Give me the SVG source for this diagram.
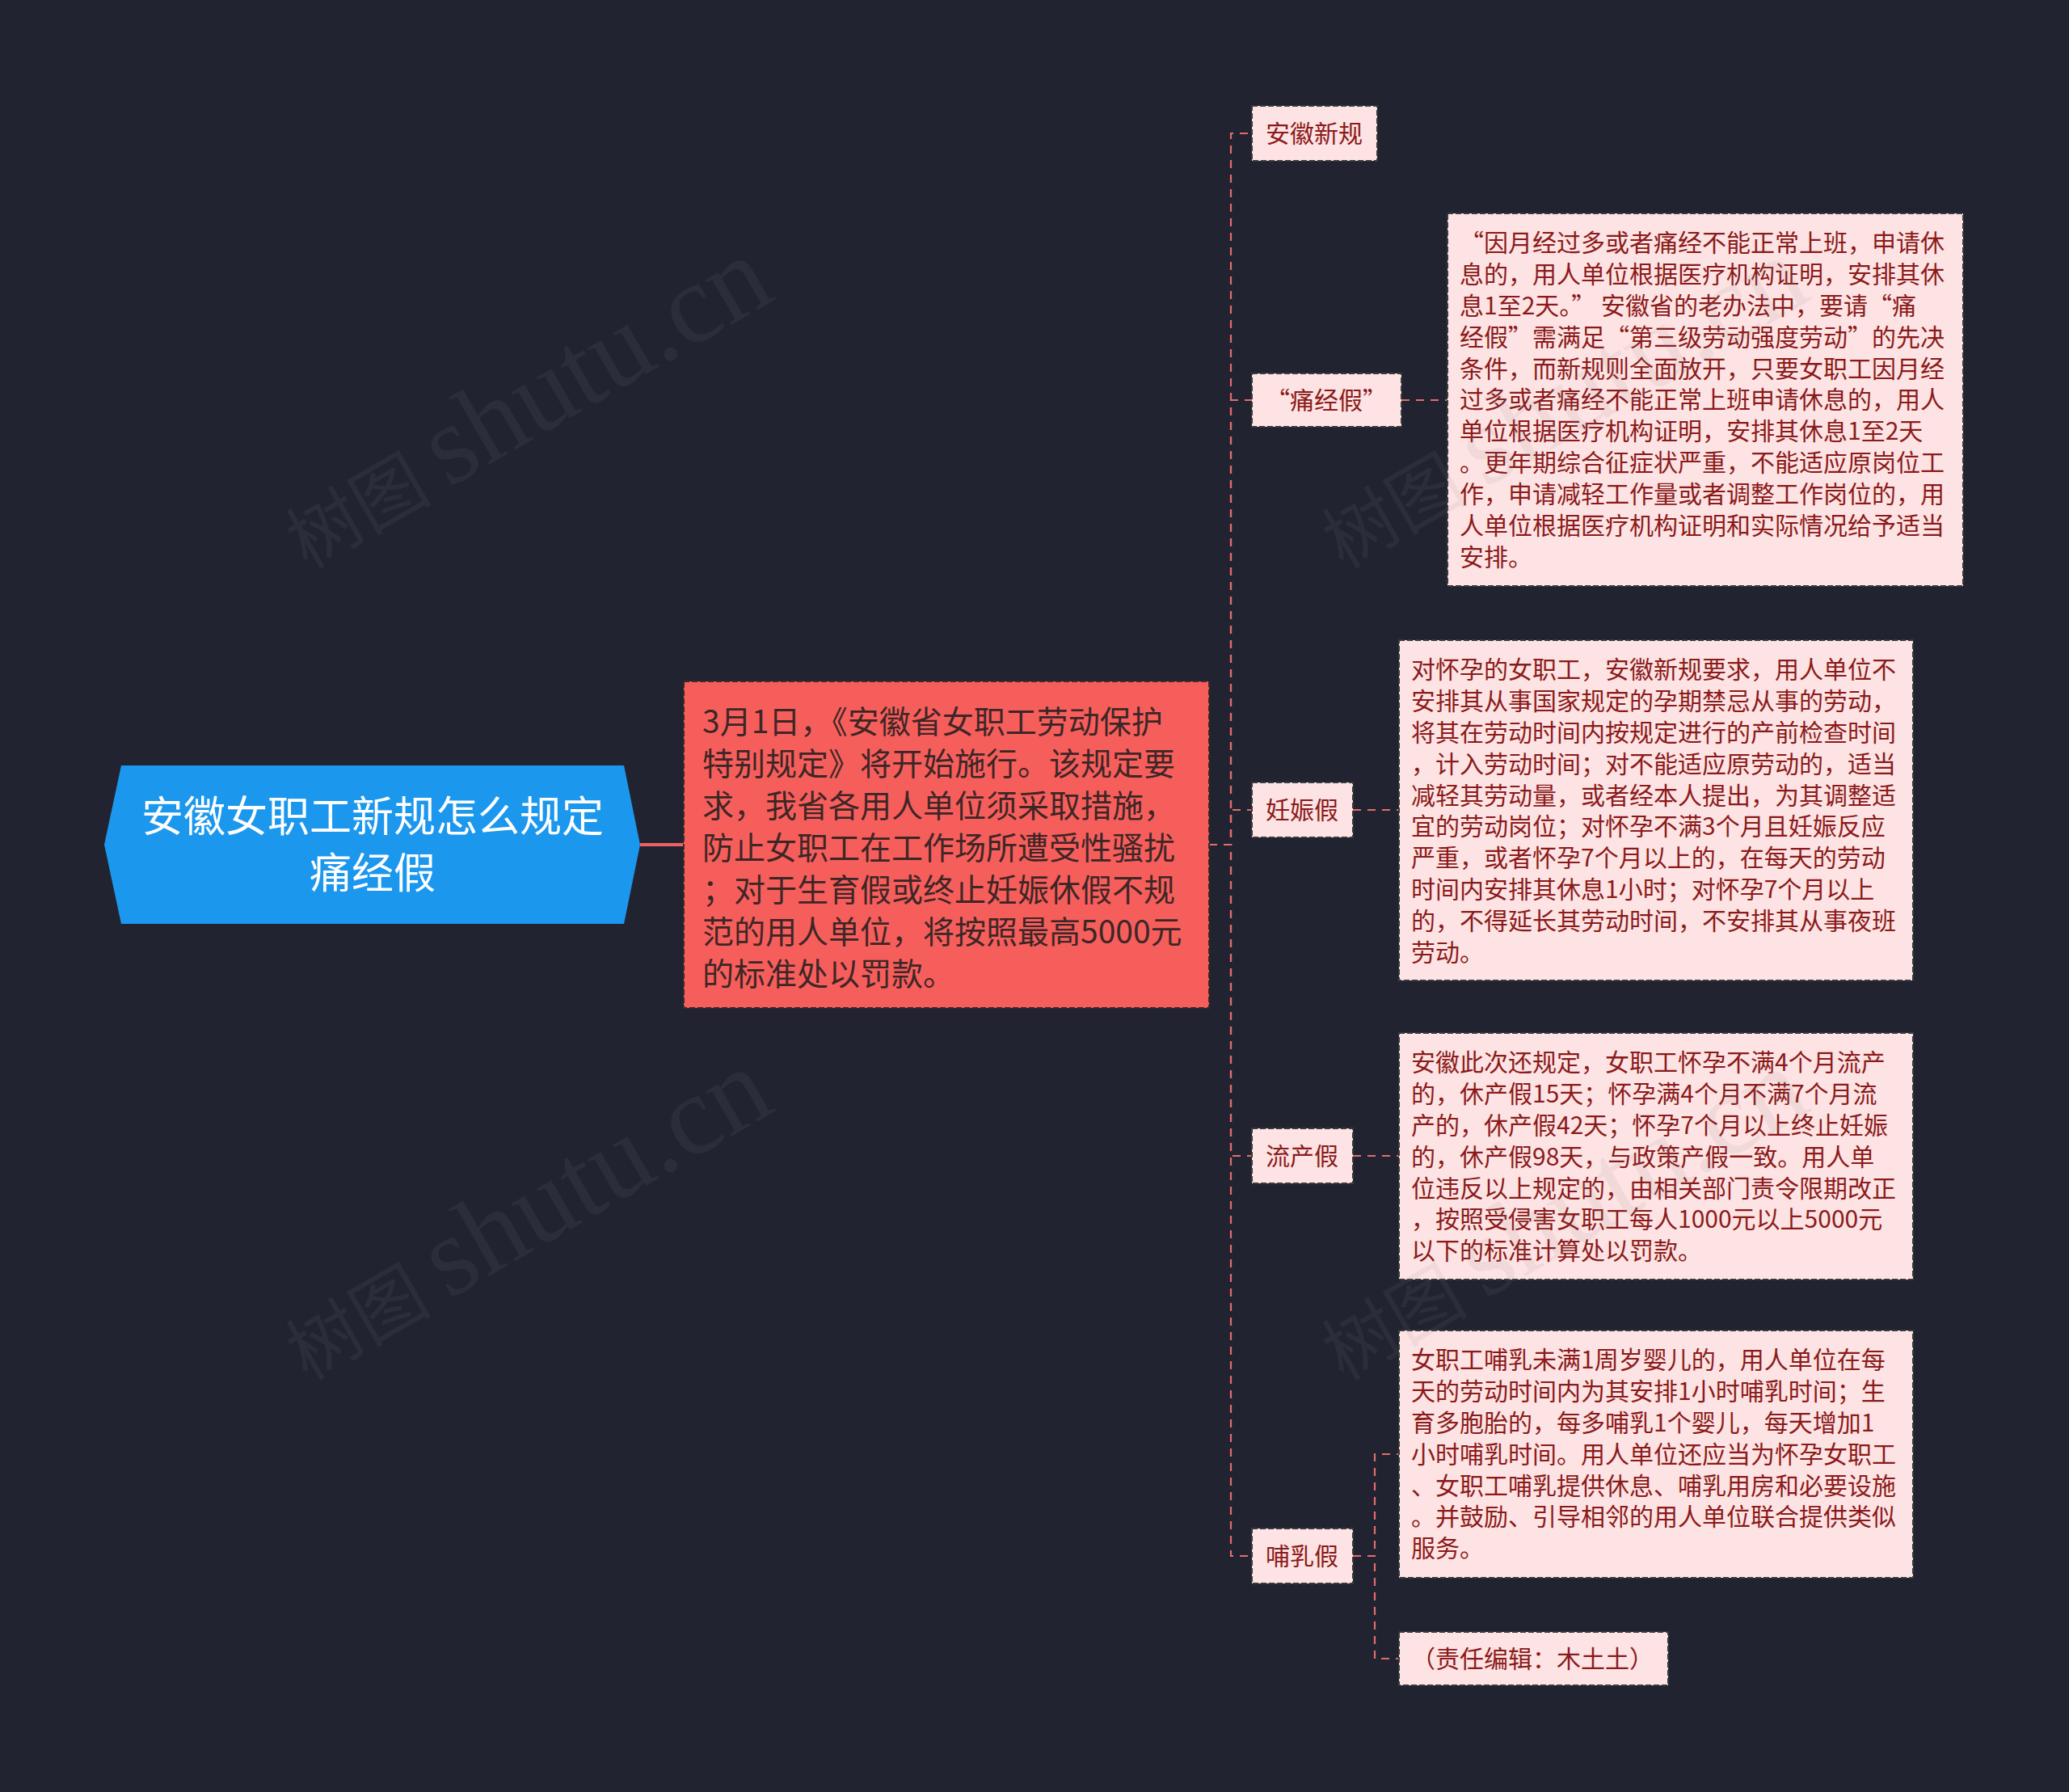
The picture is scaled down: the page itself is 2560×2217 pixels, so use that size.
<svg xmlns="http://www.w3.org/2000/svg" width="2560" height="2217" viewBox="0 0 2560 2217">
<style>
.cjk{font-family:"Microsoft YaHei","Noto Sans CJK SC","Noto Sans",sans-serif}
.box{fill:#fde3e3;stroke:#3a3a3a;stroke-width:2;stroke-dasharray:7 3}
.lbl{font-size:30px;fill:#8b1a1a;text-anchor:middle}
.txt{font-size:30px;fill:#8b1a1a}
.con{fill:none;stroke:#e56b6b;stroke-width:2.2;stroke-dasharray:10 8}
.wm{fill:#8a8a8a;fill-opacity:0.1}
</style>
<rect x="0" y="0" width="2560" height="2217" fill="#212430"/>

<g id="connectors">
<line x1="792" y1="1045" x2="846" y2="1045" stroke="#f06262" stroke-width="4"/>
<path class="con" d="M1496 1045 H1523 V165 H1549"/>
<path class="con" d="M1496 1045 H1523 V495 H1549"/>
<path class="con" d="M1496 1045 H1523 V1002 H1549"/>
<path class="con" d="M1496 1045 H1523 V1430 H1549"/>
<path class="con" d="M1496 1045 H1523 V1925 H1549"/>
<path class="con" d="M1734 495 H1791"/>
<path class="con" d="M1674 1002 H1731"/>
<path class="con" d="M1674 1430 H1731"/>
<path class="con" d="M1674 1925 H1701 V1799 H1731"/>
<path class="con" d="M1674 1925 H1701 V2052 H1731"/>
</g>

<g id="root">
<polygon points="129,1045 150,947 772,947 792,1045 772,1143 150,1143" fill="#1b97ee"/>
<text class="cjk" font-size="52" fill="#ffffff" text-anchor="middle"><tspan x="461" y="1029">安徽女职工新规怎么规定</tspan><tspan x="461" y="1099">痛经假</tspan></text>
</g>

<g id="center">
<rect x="846" y="843" width="650" height="404" fill="#f65e5c" stroke="#3a2a2a" stroke-width="2" stroke-dasharray="7 3"/>
<text class="cjk" font-size="39" fill="#3d2626">
<tspan x="869" y="907">3月1日，《安徽省女职工劳动保护</tspan>
<tspan x="869" y="959">特别规定》将开始施行。该规定要</tspan>
<tspan x="869" y="1011">求，我省各用人单位须采取措施，</tspan>
<tspan x="869" y="1063">防止女职工在工作场所遭受性骚扰</tspan>
<tspan x="869" y="1115">；对于生育假或终止妊娠休假不规</tspan>
<tspan x="869" y="1167">范的用人单位，将按照最高5000元</tspan>
<tspan x="869" y="1219">的标准处以罚款。</tspan>
</text>
</g>

<g id="n-anhui">
<rect class="box" x="1549" y="131" width="155" height="68"/>
<text class="cjk lbl" x="1626" y="176">安徽新规</text>
</g>

<g id="n-tongjing">
<rect class="box" x="1549" y="462" width="185" height="66"/>
<text class="cjk lbl" x="1641" y="506">“痛经假”</text>
</g>

<g id="n-tongjing-detail">
<rect class="box" x="1791" y="264" width="638" height="461"/>
<text class="cjk txt">
<tspan x="1806" y="311">“因月经过多或者痛经不能正常上班，申请休</tspan>
<tspan x="1806" y="350">息的，用人单位根据医疗机构证明，安排其休</tspan>
<tspan x="1806" y="389">息1至2天。” 安徽省的老办法中，要请“痛</tspan>
<tspan x="1806" y="428">经假”需满足“第三级劳动强度劳动”的先决</tspan>
<tspan x="1806" y="467">条件，而新规则全面放开，只要女职工因月经</tspan>
<tspan x="1806" y="505">过多或者痛经不能正常上班申请休息的，用人</tspan>
<tspan x="1806" y="544">单位根据医疗机构证明，安排其休息1至2天</tspan>
<tspan x="1806" y="583">。更年期综合征症状严重，不能适应原岗位工</tspan>
<tspan x="1806" y="622">作，申请减轻工作量或者调整工作岗位的，用</tspan>
<tspan x="1806" y="661">人单位根据医疗机构证明和实际情况给予适当</tspan>
<tspan x="1806" y="700">安排。</tspan>
</text>
</g>

<g id="n-renshen">
<rect class="box" x="1549" y="968" width="125" height="68"/>
<text class="cjk lbl" x="1611" y="1013">妊娠假</text>
</g>

<g id="n-renshen-detail">
<rect class="box" x="1731" y="792" width="636" height="421"/>
<text class="cjk txt">
<tspan x="1746" y="839">对怀孕的女职工，安徽新规要求，用人单位不</tspan>
<tspan x="1746" y="878">安排其从事国家规定的孕期禁忌从事的劳动，</tspan>
<tspan x="1746" y="917">将其在劳动时间内按规定进行的产前检查时间</tspan>
<tspan x="1746" y="956">，计入劳动时间；对不能适应原劳动的，适当</tspan>
<tspan x="1746" y="995">减轻其劳动量，或者经本人提出，为其调整适</tspan>
<tspan x="1746" y="1033">宜的劳动岗位；对怀孕不满3个月且妊娠反应</tspan>
<tspan x="1746" y="1072">严重，或者怀孕7个月以上的，在每天的劳动</tspan>
<tspan x="1746" y="1111">时间内安排其休息1小时；对怀孕7个月以上</tspan>
<tspan x="1746" y="1150">的，不得延长其劳动时间，不安排其从事夜班</tspan>
<tspan x="1746" y="1189">劳动。</tspan>
</text>
</g>

<g id="n-liuchan">
<rect class="box" x="1549" y="1396" width="125" height="68"/>
<text class="cjk lbl" x="1611" y="1441">流产假</text>
</g>

<g id="n-liuchan-detail">
<rect class="box" x="1731" y="1278" width="636" height="305"/>
<text class="cjk txt">
<tspan x="1746" y="1325">安徽此次还规定，女职工怀孕不满4个月流产</tspan>
<tspan x="1746" y="1364">的，休产假15天；怀孕满4个月不满7个月流</tspan>
<tspan x="1746" y="1403">产的，休产假42天；怀孕7个月以上终止妊娠</tspan>
<tspan x="1746" y="1442">的，休产假98天，与政策产假一致。用人单</tspan>
<tspan x="1746" y="1481">位违反以上规定的，由相关部门责令限期改正</tspan>
<tspan x="1746" y="1519">，按照受侵害女职工每人1000元以上5000元</tspan>
<tspan x="1746" y="1558">以下的标准计算处以罚款。</tspan>
</text>
</g>

<g id="n-buru">
<rect class="box" x="1549" y="1891" width="125" height="68"/>
<text class="cjk lbl" x="1611" y="1936">哺乳假</text>
</g>

<g id="n-buru-detail">
<rect class="box" x="1731" y="1646" width="636" height="306"/>
<text class="cjk txt">
<tspan x="1746" y="1693">女职工哺乳未满1周岁婴儿的，用人单位在每</tspan>
<tspan x="1746" y="1732">天的劳动时间内为其安排1小时哺乳时间；生</tspan>
<tspan x="1746" y="1771">育多胞胎的，每多哺乳1个婴儿，每天增加1</tspan>
<tspan x="1746" y="1810">小时哺乳时间。用人单位还应当为怀孕女职工</tspan>
<tspan x="1746" y="1849">、女职工哺乳提供休息、哺乳用房和必要设施</tspan>
<tspan x="1746" y="1887">。并鼓励、引导相邻的用人单位联合提供类似</tspan>
<tspan x="1746" y="1926">服务。</tspan>
</text>
</g>

<g id="n-editor">
<rect class="box" x="1731" y="2019" width="333" height="66"/>
<text class="cjk txt" x="1746" y="2063">（责任编辑：木土土）</text>
</g>

<g id="watermarks">
<text class="wm" transform="translate(380,705) rotate(-30)"><tspan font-family="Noto Sans CJK SC, sans-serif" font-size="90">树图</tspan><tspan font-family="Liberation Serif, serif" font-size="140" dx="22">shutu.cn</tspan></text>
<text class="wm" transform="translate(380,1709) rotate(-30)"><tspan font-family="Noto Sans CJK SC, sans-serif" font-size="90">树图</tspan><tspan font-family="Liberation Serif, serif" font-size="140" dx="22">shutu.cn</tspan></text>
<text class="wm" transform="translate(1662,705) rotate(-30)"><tspan font-family="Noto Sans CJK SC, sans-serif" font-size="90">树图</tspan><tspan font-family="Liberation Serif, serif" font-size="140" dx="22">shutu.cn</tspan></text>
<text class="wm" transform="translate(1662,1709) rotate(-30)"><tspan font-family="Noto Sans CJK SC, sans-serif" font-size="90">树图</tspan><tspan font-family="Liberation Serif, serif" font-size="140" dx="22">shutu.cn</tspan></text>
</g>
</svg>
